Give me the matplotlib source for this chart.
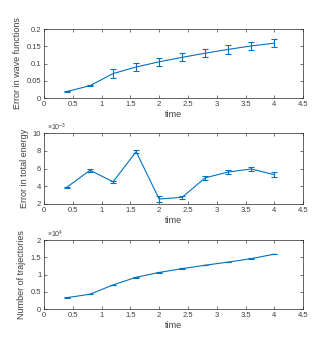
import matplotlib
matplotlib.use("Agg")
import matplotlib.pyplot as plt
from matplotlib.ticker import FuncFormatter

time = [0.4, 0.8, 1.2, 1.6, 2.0, 2.4, 2.8, 3.2, 3.6, 4.0]
wave_err = [0.019, 0.036, 0.071, 0.090, 0.105, 0.118, 0.130, 0.141, 0.151, 0.159]
wave_err_sd = [0.001, 0.001, 0.012, 0.012, 0.012, 0.012, 0.011, 0.012, 0.012, 0.012]
energy_err = [3.9e-3, 5.8e-3, 4.5e-3, 7.9e-3, 2.55e-3, 2.75e-3, 4.95e-3, 5.6e-3, 5.95e-3, 5.3e-3]
energy_err_sd = [0.05e-3, 0.2e-3, 0.1e-3, 0.2e-3, 0.3e-3, 0.15e-3, 0.2e-3, 0.25e-3, 0.2e-3, 0.3e-3]
n_traj = [3300, 4300, 7000, 9200, 10600, 11700, 12700, 13600, 14600, 15900]
n_traj_sd = [60, 60, 80, 80, 80, 80, 80, 80, 80, 80]

blue = '#0072BD'
dark = '#404040'
plt.rcParams['font.family'] = ['Liberation Sans', 'DejaVu Sans']
plt.rcParams['mathtext.fontset'] = 'custom'
plt.rcParams['mathtext.rm'] = 'Liberation Sans'
plt.rcParams['mathtext.it'] = 'Liberation Sans'

fig = plt.figure(figsize=(3.36, 3.54), dpi=100)
L, W = 0.131, 0.771
axes = [fig.add_axes([L, 0.723, W, 0.195]),
        fig.add_axes([L, 0.424, W, 0.200]),
        fig.add_axes([L, 0.127, W, 0.195])]

specs = [
    (wave_err, wave_err_sd, 'Error in wave functions', (0, 0.2), [0, 0.05, 0.1, 0.15, 0.2], None),
    (energy_err, energy_err_sd, 'Error in total energy', (2e-3, 10e-3), [2e-3, 4e-3, 6e-3, 8e-3, 10e-3], (1e-3, '-3')),
    (n_traj, n_traj_sd, 'Number of trajectories', (0, 2e4), [0, 0.5e4, 1e4, 1.5e4, 2e4], (1e4, '4')),
]

for ax, (y, e, lab, ylim, yt, scale) in zip(axes, specs):
    ax.errorbar(time, y, yerr=e, color=blue, lw=0.8, elinewidth=0.8, capsize=2, capthick=0.8)
    ax.set_xlim(0, 4.5)
    ax.set_ylim(*ylim)
    ax.set_xticks([0, 0.5, 1, 1.5, 2, 2.5, 3, 3.5, 4, 4.5])
    ax.set_xticklabels(['0', '0.5', '1', '1.5', '2', '2.5', '3', '3.5', '4', '4.5'])
    ax.set_yticks(yt)
    if scale is None:
        ax.yaxis.set_major_formatter(FuncFormatter(lambda v, p: f'{v:g}'))
    else:
        s, ex = scale
        ax.yaxis.set_major_formatter(FuncFormatter(lambda v, p, s=s: f'{v/s:g}'))
        ax.text(0.01, 1.005, r'$\times10^{' + ex + '}$', transform=ax.transAxes,
                fontsize=5, color=dark, ha='left', va='bottom')
    ax.tick_params(direction='in', top=True, right=True, length=2.5, width=0.5,
                   colors=dark, labelsize=5.5, pad=2)
    for sp in ax.spines.values():
        sp.set_color('#262626')
        sp.set_linewidth(0.5)
    ax.set_xlabel('time', fontsize=6.5, color=dark, labelpad=1.5)
    ax.set_ylabel(lab, fontsize=6.5, color=dark, labelpad=3)

fig.savefig('out.png', dpi=100)
